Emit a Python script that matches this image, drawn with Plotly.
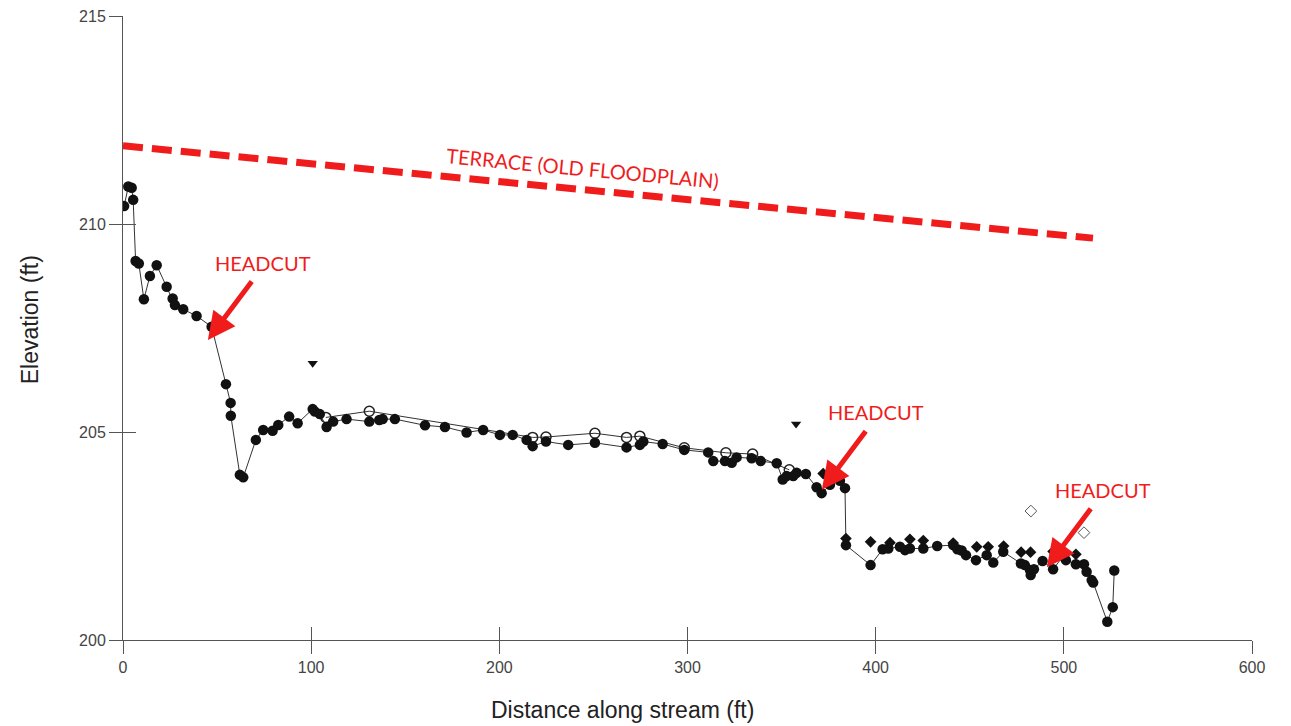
import plotly.graph_objects as go

# Main thalweg profile (filled circles, connected)
main_x = [0.6, 2.8, 4.6, 5.4, 6.7, 8.4, 11.1, 14.3, 17.9, 23.2, 26.4, 27.6, 32.0, 39.1, 47.1,
          54.7, 57.2, 57.3, 62.1, 63.9, 70.6, 74.5, 79.5, 82.5, 88.3, 92.8, 100.8, 102.0, 104.6,
          108.2, 111.7, 118.8, 130.9, 136.2, 138.0, 144.5, 160.5, 171.1, 182.6, 191.4, 200.3,
          207.1, 214.5, 217.7, 224.8, 236.6, 250.8, 267.6, 274.7, 276.5, 286.8, 298.3, 311.0,
          313.7, 319.9, 323.5, 326.1, 334.1, 338.9, 347.4, 350.6, 352.7, 356.2, 358.0, 362.9,
          368.6, 371.3, 375.7, 381.0, 383.7, 384.2, 397.3, 403.7, 406.7, 412.9, 415.6, 418.2,
          425.3, 432.7, 441.2, 443.4, 445.7, 448.0, 453.3, 459.0, 462.5, 467.8, 477.2, 479.3,
          482.0, 482.4, 484.1, 488.7, 494.3, 499.7, 501.1, 506.4, 510.7, 512.1, 514.8, 515.6,
          523.1, 526.0, 526.8]
main_y = [210.43, 210.90, 210.87, 210.58, 209.11, 209.05, 208.19, 208.75, 209.01, 208.49, 208.21,
          208.05, 207.95, 207.79, 207.53, 206.15, 205.70, 205.39, 203.97, 203.91, 204.81, 205.05,
          205.03, 205.17, 205.37, 205.21, 205.55, 205.49, 205.43, 205.12, 205.25, 205.31, 205.25,
          205.29, 205.31, 205.31, 205.16, 205.12, 204.99, 205.05, 204.93, 204.93, 204.81, 204.66,
          204.77, 204.69, 204.74, 204.63, 204.69, 204.77, 204.71, 204.57, 204.51, 204.30, 204.30,
          204.26, 204.39, 204.37, 204.30, 204.25, 203.86, 203.94, 203.94, 204.02, 203.99, 203.67,
          203.53, 203.73, 203.83, 203.65, 202.28, 201.80, 202.18, 202.20, 202.24, 202.16, 202.20,
          202.20, 202.26, 202.28, 202.18, 202.15, 202.04, 201.92, 202.04, 201.86, 202.12, 201.84,
          201.80, 201.68, 201.56, 201.70, 201.90, 201.70, 202.02, 201.92, 201.82, 201.82, 201.64,
          201.44, 201.38, 200.44, 200.79, 201.67]

# Second survey (open circles, connected)
open_x = [107.8, 130.9, 217.7, 224.8, 250.8, 267.6, 274.7, 298.3, 320.4, 334.6, 354.1]
open_y = [205.35, 205.50, 204.87, 204.88, 204.97, 204.87, 204.90, 204.62, 204.50, 204.47, 204.09]

# Filled diamonds
dia_x = [372.1, 384.2, 397.3, 407.6, 418.2, 425.3, 441.2, 453.7, 459.8, 468.0, 477.3, 482.3,
         494.3, 500.2, 506.4]
dia_y = [204.00, 202.44, 202.36, 202.34, 202.42, 202.39, 202.33, 202.24, 202.24, 202.26, 202.11,
         202.11, 202.13, 202.08, 202.06]

# Open diamonds
odia_x = [482.5, 510.7]
odia_y = [203.10, 202.58]

# Inverted triangles
tri_x = [100.8, 357.7]
tri_y = [206.65, 205.19]

# Terrace line
terrace_x = [0, 515.5]
terrace_y = [211.88, 209.66]

x_ticks = [0, 100, 200, 300, 400, 500, 600]
y_ticks = [200, 205, 210, 215]

RED = "#f01c1c"
fig = go.Figure()

fig.add_trace(go.Scatter(x=terrace_x, y=terrace_y, mode="lines",
                         line=dict(color=RED, width=7, dash="20px,9px"), hoverinfo="skip"))
fig.add_trace(go.Scatter(x=open_x, y=open_y, mode="lines+markers",
                         line=dict(color="#333", width=1),
                         marker=dict(symbol="circle-open", size=10, color="#222",
                                     line=dict(width=1.5, color="#222"))))
fig.add_trace(go.Scatter(x=main_x, y=main_y, mode="lines+markers",
                         line=dict(color="#333", width=1),
                         marker=dict(symbol="circle", size=10.5, color="#111")))
fig.add_trace(go.Scatter(x=dia_x, y=dia_y, mode="markers",
                         marker=dict(symbol="diamond", size=9, color="#111")))
fig.add_trace(go.Scatter(x=odia_x, y=odia_y, mode="markers",
                         marker=dict(symbol="diamond-open", size=9, color="#555",
                                     line=dict(width=1, color="#555"))))
fig.add_trace(go.Scatter(x=tri_x, y=tri_y, mode="markers",
                         marker=dict(symbol="triangle-down", size=9, color="#111")))
# invisible trace on overlay axes for inward ticks
fig.add_trace(go.Scatter(x=[0], y=[200], xaxis="x2", yaxis="y2", mode="markers",
                         marker=dict(opacity=0), hoverinfo="skip"))

tickfont = dict(family="Liberation Sans, Arial", size=16, color="#444")
axis_common = dict(showgrid=False, zeroline=False, showline=True, linecolor="#555",
                   linewidth=1, ticks="outside", ticklen=13, tickcolor="#555", tickwidth=1,
                   tickfont=tickfont, automargin=False)

fig.update_layout(
    width=1291, height=726,
    margin=dict(l=123, r=39, t=16, b=86, autoexpand=False),
    plot_bgcolor="white", paper_bgcolor="white",
    showlegend=False,
    xaxis=dict(range=[0, 600], tickvals=x_ticks, **axis_common),
    yaxis=dict(range=[200, 215], tickvals=y_ticks, **axis_common),
    xaxis2=dict(range=[0, 600], tickvals=x_ticks, overlaying="x", anchor="y2", side="bottom",
                showgrid=False, zeroline=False, showline=False, ticks="inside", ticklen=13,
                tickcolor="#555", showticklabels=False, automargin=False),
    yaxis2=dict(range=[200, 215], tickvals=y_ticks, overlaying="y", anchor="x2", side="left",
                showgrid=False, zeroline=False, showline=False, ticks="inside", ticklen=13,
                tickcolor="#555", showticklabels=False, automargin=False),
)

annfont = dict(family="Lato, Open Sans", size=20, color=RED)
arrows = [(45.1, 207.21), (371.4, 203.61), (491.0, 201.75)]
labels = [(74.4, 209.06), (400.1, 205.48), (520.8, 203.61)]
for (ax_, ay_), (lx, ly) in zip(arrows, labels):
    fig.add_annotation(x=ax_, y=ay_, xref="x", yref="y", text="", showarrow=True,
                       ax=45, ay=-60, arrowhead=2, arrowsize=1.1, arrowwidth=5,
                       arrowcolor=RED)
    fig.add_annotation(x=lx, y=ly, xref="x", yref="y", text="HEADCUT", showarrow=False,
                       font=annfont)

fig.add_annotation(x=244.4, y=211.35, xref="x", yref="y", text="TERRACE (OLD FLOODPLAIN)",
                   showarrow=False, textangle=5.4,
                   font=dict(family="Lato, Open Sans", size=20, color=RED))

fig.add_annotation(x=0.442, y=-0.112, xref="paper", yref="paper", text="Distance along stream (ft)",
                   showarrow=False, font=dict(family="Liberation Sans, Arial", size=23, color="#222"),
                   xanchor="center", yanchor="middle")
fig.add_annotation(x=-0.0824, y=0.514, xref="paper", yref="paper", text="Elevation (ft)",
                   showarrow=False, textangle=-90,
                   font=dict(family="Liberation Sans, Arial", size=23, color="#222"),
                   xanchor="center", yanchor="middle")

fig.write_html("out.html", config={"displayModeBar": False},
               post_script="document.body.style.margin='0';document.body.style.overflow='hidden';")
